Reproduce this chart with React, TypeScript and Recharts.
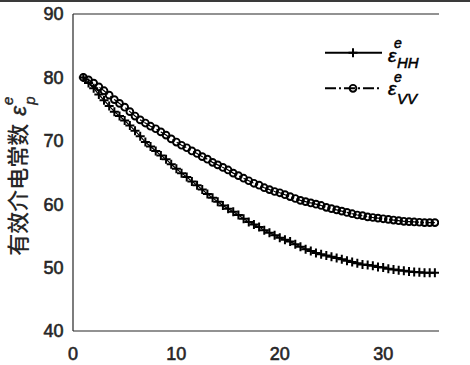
import React from 'react'
import { LineChart, Line, XAxis, YAxis, Legend } from 'recharts'

// incidence angle samples
const xValues = [
  1, 1.5, 2, 2.5, 3, 3.5, 4, 4.5, 5, 5.5, 6, 6.5, 7, 7.5, 8, 8.5, 9, 9.5, 10, 10.5,
  11, 11.5, 12, 12.5, 13, 13.5, 14, 14.5, 15, 15.5, 16, 16.5, 17, 17.5, 18, 18.5, 19, 19.5, 20, 20.5,
  21, 21.5, 22, 22.5, 23, 23.5, 24, 24.5, 25, 25.5, 26, 26.5, 27, 27.5, 28, 28.5, 29, 29.5, 30, 30.5,
  31, 31.5, 32, 32.5, 33, 33.5, 34, 34.5, 35,
]

const hhValues = [
  80.0, 79.1, 78.3, 77.3, 76.4, 75.5, 74.6, 73.9, 73.2, 72.4, 71.6, 70.7, 69.8, 69.1, 68.4, 67.7, 67.1, 66.3, 65.6, 64.9,
  64.3, 63.6, 63.0, 62.3, 61.6, 61.0, 60.4, 59.8, 59.3, 58.8, 58.3, 57.7, 57.2, 56.8, 56.4, 55.9, 55.5, 55.1, 54.7, 54.4,
  54.1, 53.7, 53.3, 52.9, 52.6, 52.3, 52.1, 51.9, 51.7, 51.5, 51.3, 51.1, 50.9, 50.7, 50.5, 50.4, 50.3, 50.1, 50.0, 49.8,
  49.7, 49.6, 49.5, 49.4, 49.3, 49.25, 49.2, 49.2, 49.2,
]

const vvValues = [
  80.0, 79.6, 79.1, 78.5, 77.9, 77.2, 76.5, 75.9, 75.3, 74.6, 73.9, 73.3, 72.8, 72.3, 71.9, 71.4, 70.9, 70.3, 69.8, 69.3,
  68.9, 68.4, 68.0, 67.5, 67.1, 66.6, 66.2, 65.8, 65.4, 64.9, 64.5, 64.1, 63.7, 63.3, 63.0, 62.6, 62.3, 62.0, 61.8, 61.5,
  61.2, 60.9, 60.6, 60.4, 60.2, 60.0, 59.8, 59.5, 59.3, 59.1, 58.9, 58.7, 58.5, 58.3, 58.2, 58.0, 57.9, 57.8, 57.7, 57.6,
  57.5, 57.4, 57.3, 57.25, 57.2, 57.15, 57.1, 57.1, 57.1,
]

const xTicks = [0, 10, 20, 30]
const yTicks = [40, 50, 60, 70, 80, 90]
const seriesNames = ['HH', 'VV']

const data = xValues.map((x, i) => ({ x, hh: hhValues[i], vv: vvValues[i] }))

const axisColor = '#262626'
const sansFont = '"Liberation Sans", Arial, sans-serif'
const tickStyle = { fontSize: 18, fill: axisColor, stroke: axisColor, strokeWidth: 0.6, fontFamily: sansFont }
const dashDot = '11 3 2 3'

function PlusMark({ cx, cy }: { cx?: number; cy?: number }) {
  if (cx == null || cy == null) return null
  return (
    <path
      d={`M${cx - 4.5},${cy}H${cx + 4.5}M${cx},${cy - 4.5}V${cy + 4.5}`}
      stroke="#000"
      strokeWidth={2}
      fill="none"
    />
  )
}

function CircleMark({ cx, cy }: { cx?: number; cy?: number }) {
  if (cx == null || cy == null) return null
  return <circle cx={cx} cy={cy} r={3.4} stroke="#000" strokeWidth={1.9} fill="none" />
}

const YLabel = () => (
  <text
    transform="translate(26,176) rotate(-90)"
    textAnchor="middle"
    fontSize={22}
    fontWeight={500}
    fill={axisColor}
    fontFamily='"Noto Sans CJK SC", sans-serif'
  >
    有效介电常数
    <tspan dx={8} fontStyle="italic" fontFamily={sansFont} stroke={axisColor} strokeWidth={0.5}>ε</tspan>
    <tspan dx={1} dy={-13} fontSize={15} fontStyle="italic" fontFamily={sansFont} stroke={axisColor} strokeWidth={0.4}>e</tspan>
    <tspan dx={-8} dy={22} fontSize={15} fontStyle="italic" fontFamily={sansFont} stroke={axisColor} strokeWidth={0.4}>p</tspan>
  </text>
)

function LegendBox() {
  const text = { fill: '#000', stroke: '#000', strokeWidth: 0.5, fontFamily: sansFont, fontStyle: 'italic' as const }
  return (
    <svg width={140} height={80}>
      <line x1={5} x2={62} y1={17.7} y2={17.7} stroke="#000" strokeWidth={2} />
      <PlusMark cx={33} cy={17.7} />
      <text {...text} fontSize={19} x={68} y={27}>
        ε
        <tspan x={74} y={13} fontSize={14}>e</tspan>
        <tspan x={77} y={33} fontSize={15}>{seriesNames[0]}</tspan>
      </text>
      <line x1={5} x2={62} y1={53.3} y2={53.3} stroke="#000" strokeWidth={2} strokeDasharray={dashDot} />
      <CircleMark cx={33} cy={53.3} />
      <text {...text} fontSize={19} x={68} y={60}>
        ε
        <tspan x={74} y={47} fontSize={14}>e</tspan>
        <tspan x={77} y={69} fontSize={15}>{seriesNames[1]}</tspan>
      </text>
    </svg>
  )
}

export default function App() {
  return (
    <div style={{ position: 'absolute', left: 0, top: 0, width: 470, height: 365, background: '#fff' }}>
      <div style={{ position: 'absolute', left: 0, top: 0, width: 470, height: 2, background: '#3a3a3a' }} />
      <LineChart width={470} height={365} data={data} margin={{ top: 14, right: 31, left: 0, bottom: 0 }}>
        <XAxis
          xAxisId="x"
          dataKey="x"
          type="number"
          domain={[0, 35.4]}
          ticks={xTicks}
          height={34}
          tickLine={false}
          tickSize={6}
          tickMargin={10}
          axisLine={{ stroke: axisColor, strokeWidth: 1.2 }}
          tick={tickStyle}
          allowDataOverflow
        />
        <XAxis
          xAxisId="xb"
          dataKey="x"
          type="number"
          domain={[0, 35.4]}
          ticks={xTicks}
          mirror
          tick={false}
          tickSize={5}
          tickLine={{ stroke: axisColor }}
          axisLine={false}
          allowDataOverflow
        />
        <XAxis
          xAxisId="xt"
          orientation="top"
          dataKey="x"
          type="number"
          domain={[0, 35.4]}
          ticks={xTicks}
          mirror
          tick={false}
          tickSize={5}
          tickLine={{ stroke: axisColor }}
          axisLine={{ stroke: axisColor, strokeWidth: 1.2 }}
          allowDataOverflow
        />
        <YAxis
          yAxisId="y"
          type="number"
          domain={[40, 90]}
          ticks={yTicks}
          width={73}
          tickLine={false}
          tickSize={6}
          tickMargin={3.5}
          axisLine={{ stroke: axisColor, strokeWidth: 1.2 }}
          tick={tickStyle}
          label={{ content: () => <YLabel /> }}
          allowDataOverflow
        />
        <YAxis
          yAxisId="yl"
          type="number"
          domain={[40, 90]}
          ticks={yTicks}
          mirror
          tick={false}
          tickSize={5}
          tickLine={{ stroke: axisColor }}
          axisLine={false}
          allowDataOverflow
        />
        <YAxis
          yAxisId="yr"
          orientation="right"
          type="number"
          domain={[40, 90]}
          ticks={yTicks}
          mirror
          width={0}
          tick={false}
          tickSize={5}
          tickLine={{ stroke: axisColor }}
          axisLine={{ stroke: axisColor, strokeWidth: 1.2 }}
          allowDataOverflow
        />
        <Legend
          layout="vertical"
          align="center"
          verticalAlign="middle"
          content={() => <LegendBox />}
          wrapperStyle={{ left: 320, top: 35, width: 140, height: 80 }}
        />
        <Line
          xAxisId="x"
          yAxisId="y"
          dataKey="hh"
          name={seriesNames[0]}
          type="linear"
          stroke="#000"
          strokeWidth={1.2}
          isAnimationActive={false}
          dot={(p: any) => <PlusMark key={`hh-${p.index}`} cx={p.cx} cy={p.cy} />}
        />
        <Line
          xAxisId="x"
          yAxisId="y"
          dataKey="vv"
          name={seriesNames[1]}
          type="linear"
          stroke="#000"
          strokeWidth={1.2}
          strokeDasharray={dashDot}
          isAnimationActive={false}
          dot={(p: any) => <CircleMark key={`vv-${p.index}`} cx={p.cx} cy={p.cy} />}
        />
      </LineChart>
    </div>
  )
}
